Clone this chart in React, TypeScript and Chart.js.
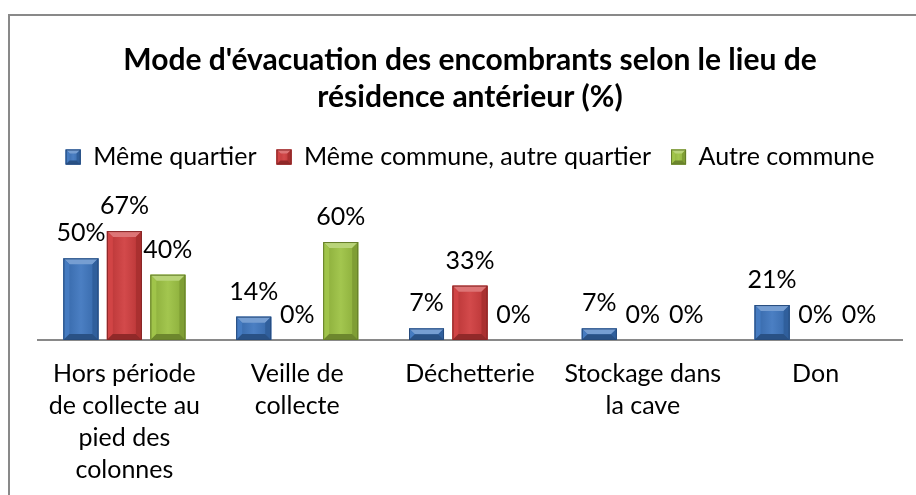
import React, { useEffect, useRef } from "react";
import { Chart, registerables } from "chart.js";

Chart.register(...registerables);

// ---------- data ----------
const categories: string[][] = [
  ["Hors période", "de collecte au", "pied des", "colonnes"],
  ["Veille de", "collecte"],
  ["Déchetterie"],
  ["Stockage dans", "la cave"],
  ["Don"],
];
const seriesNames = ["Même quartier", "Même commune, autre quartier", "Autre commune"];
const memeQuartier = [50, 14.3, 7.1, 7.1, 21.4];
const memeCommune = [66.7, 0, 33.3, 0, 0];
const autreCommune = [40, 60, 0, 0, 0];
const seriesColors = ["#3b74be", "#cf3a3b", "#9bc140"];
const titleLines = ["Mode d'évacuation des encombrants selon le lieu de", "résidence antérieur (%)"];

const FONT = "Lato, 'Open Sans', 'DejaVu Sans', sans-serif";

function shade(hex: string, amt: number): string {
  const n = parseInt(hex.slice(1), 16);
  const r = (n >> 16) & 255, g = (n >> 8) & 255, b = n & 255;
  const f = (c: number) => Math.max(0, Math.min(255, Math.round(amt >= 0 ? c + (255 - c) * amt : c * (1 + amt))));
  return `rgb(${f(r)},${f(g)},${f(b)})`;
}

function drawBevel(ctx: CanvasRenderingContext2D, col: string, left: number, top: number, right: number, bottom: number, bev: number) {
  const h = bottom - top;
  const b = Math.min(bev, h / 2, (right - left) / 2);
  ctx.save();
  const g = ctx.createLinearGradient(left, 0, right, 0);
  g.addColorStop(0, shade(col, -0.12));
  g.addColorStop(0.5, shade(col, 0.08));
  g.addColorStop(1, shade(col, -0.12));
  ctx.fillStyle = g;
  ctx.fillRect(left, top, right - left, h);
  ctx.fillStyle = shade(col, 0.3);
  ctx.beginPath();
  ctx.moveTo(left, top); ctx.lineTo(right, top);
  ctx.lineTo(right - b, top + b); ctx.lineTo(left + b, top + b);
  ctx.closePath(); ctx.fill();
  ctx.fillStyle = shade(col, 0.05);
  ctx.beginPath();
  ctx.moveTo(left, top); ctx.lineTo(left + b, top + b);
  ctx.lineTo(left + b, bottom - b); ctx.lineTo(left, bottom);
  ctx.closePath(); ctx.fill();
  ctx.fillStyle = shade(col, -0.18);
  ctx.beginPath();
  ctx.moveTo(right, top); ctx.lineTo(right - b, top + b);
  ctx.lineTo(right - b, bottom - b); ctx.lineTo(right, bottom);
  ctx.closePath(); ctx.fill();
  ctx.fillStyle = shade(col, -0.3);
  ctx.beginPath();
  ctx.moveTo(left, bottom); ctx.lineTo(left + b, bottom - b);
  ctx.lineTo(right - b, bottom - b); ctx.lineTo(right, bottom);
  ctx.closePath(); ctx.fill();
  ctx.strokeStyle = shade(col, -0.35);
  ctx.lineWidth = 1;
  ctx.strokeRect(left + 0.5, top + 0.5, right - left - 1, h - 1);
  ctx.restore();
}

const bevelPlugin = {
  id: "bevel",
  afterDatasetsDraw(chart: any) {
    const ctx = chart.ctx as CanvasRenderingContext2D;
    chart.data.datasets.forEach((ds: any, di: number) => {
      const meta = chart.getDatasetMeta(di);
      const col = seriesColors[di];
      meta.data.forEach((bar: any) => {
        const p = bar.getProps(["x", "y", "base", "width"], true);
        const left = p.x - p.width / 2, right = p.x + p.width / 2;
        const top = Math.min(p.y, p.base), bottom = Math.max(p.y, p.base);
        if (bottom - top < 1) return;
        drawBevel(ctx, col, left, top, right, bottom, 6);
      });
    });
  },
  afterDraw(chart: any) {
    // give legend swatches the same bevelled look
    const legend = chart.legend;
    if (!legend || !legend.legendHitBoxes) return;
    const ctx = chart.ctx as CanvasRenderingContext2D;
    const bw = legend.options.labels.boxWidth;
    const bh = legend.options.labels.boxHeight;
    legend.legendHitBoxes.forEach((hb: any, i: number) => {
      const col = seriesColors[i];
      const top = hb.top + (hb.height - bh) / 2;
      drawBevel(ctx, col, hb.left, top, hb.left + bw, top + bh, 4);
    });
  },
};

const labelPlugin = {
  id: "valueLabels",
  afterDatasetsDraw(chart: any) {
    const ctx = chart.ctx as CanvasRenderingContext2D;
    ctx.save();
    ctx.font = `25px ${FONT}`;
    ctx.fillStyle = "#000";
    ctx.textAlign = "center";
    ctx.textBaseline = "middle";
    chart.data.datasets.forEach((ds: any, di: number) => {
      const meta = chart.getDatasetMeta(di);
      meta.data.forEach((bar: any, i: number) => {
        const v = ds.data[i] as number;
        const p = bar.getProps(["x", "y"], true);
        ctx.fillText(`${Math.round(v)}%`, p.x, p.y - 25);
      });
    });
    ctx.restore();
  },
};

export default function App() {
  const ref = useRef<HTMLCanvasElement | null>(null);
  useEffect(() => {
    if (!ref.current) return;
    const seriesData = [memeQuartier, memeCommune, autreCommune];
    const chart = new Chart(ref.current, {
      type: "bar",
      data: {
        labels: categories,
        datasets: seriesNames.map((name, i) => ({
          label: name,
          data: seriesData[i],
          backgroundColor: seriesColors[i],
          borderWidth: 0,
          categoryPercentage: 0.755,
          barPercentage: 0.805,
        })),
      },
      options: {
        animation: false,
        responsive: false,
        devicePixelRatio: 1,
        layout: { padding: { left: 38, right: 14, top: 0, bottom: 0 } },
        plugins: {
          title: {
            display: true,
            text: titleLines,
            color: "#000",
            font: { family: FONT, size: 30, weight: "bold", lineHeight: "37px" },
            padding: { top: 41.5, bottom: 9 },
          },
          legend: {
            display: true,
            position: "top",
            labels: {
              color: "#000",
              font: { family: FONT, size: 25 },
              boxWidth: 15,
              boxHeight: 15,
              padding: 20,
            },
          },
          tooltip: { enabled: false },
        },
        scales: {
          x: {
            grid: { display: false, drawTicks: false },
            border: { display: true, color: "#898989", width: 2 },
            ticks: {
              color: "#000",
              font: { family: FONT, size: 25, lineHeight: "32px" },
              padding: 18,
              maxRotation: 0,
              autoSkip: false,
            },
            afterFit: (scale: any) => { scale.height = 155; },
          },
          y: {
            display: false,
            min: 0,
            max: 98.3,
          },
        },
      },
      plugins: [bevelPlugin, labelPlugin],
    });
    return () => chart.destroy();
  }, []);

  return (
    <div style={{ position: "fixed", left: 0, top: 0, width: 916, height: 495, overflow: "hidden", background: "#fff" }}>
      <div style={{ position: "absolute", left: 8, top: 14, width: 1000, height: 1000, border: "2px solid #898989", boxSizing: "border-box" }} />
      <canvas ref={ref} width={916} height={495} style={{ position: "absolute", left: 0, top: 0, width: 916, height: 495 }} />
    </div>
  );
}
